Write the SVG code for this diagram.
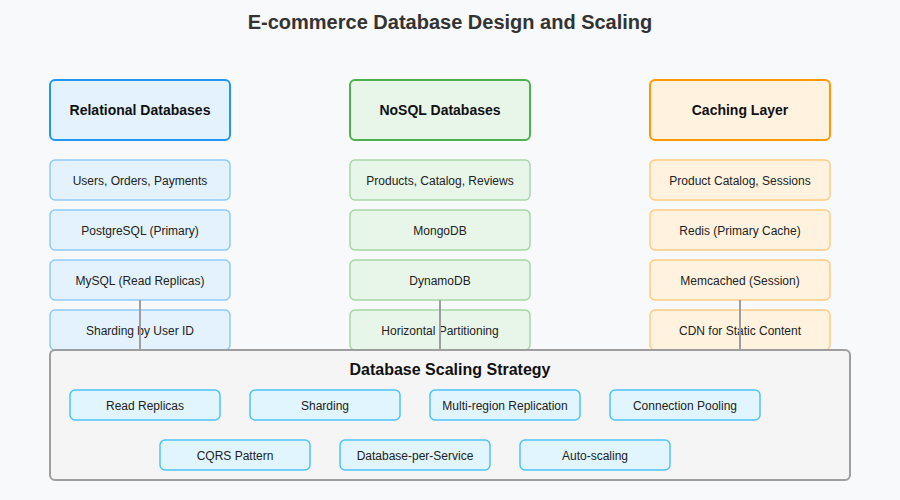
<svg xmlns="http://www.w3.org/2000/svg" width="900" height="500" viewBox="0 0 900 500">
<style>
text{font-family:"Liberation Sans",Arial,sans-serif;fill:#222;text-anchor:middle;dominant-baseline:central}
.title{font-size:20px;font-weight:bold;fill:#333}
.hdr{font-size:14px;font-weight:bold;fill:#111}
.sub{font-size:12px}
.rel-h{fill:#E3F2FD;stroke:#2196F3;stroke-width:2}
.rel-s{fill:#E3F2FD;stroke:#90CAF9;stroke-width:1.5}
.nos-h{fill:#E8F5E9;stroke:#4CAF50;stroke-width:2}
.nos-s{fill:#E8F5E9;stroke:#A5D6A7;stroke-width:1.5}
.cac-h{fill:#FFF3E0;stroke:#FF9800;stroke-width:2}
.cac-s{fill:#FFF3E0;stroke:#FFCC80;stroke-width:1.5}
.panel{fill:#F5F5F5;stroke:#9E9E9E;stroke-width:2}
.strat{fill:#E1F5FE;stroke:#4FC3F7;stroke-width:1.5}
.conn{stroke:#9E9E9E;stroke-width:2;fill:none}
</style>
<rect width="900" height="500" fill="#F8F9FA"/>
<text class="title" x="450" y="22">E-commerce Database Design and Scaling</text>

<g id="relational">
<rect class="rel-h" x="50" y="80" width="180" height="60" rx="5"/>
<text class="hdr" x="140" y="110">Relational Databases</text>
<rect class="rel-s" x="50" y="160" width="180" height="40" rx="5"/>
<text class="sub" x="140" y="181">Users, Orders, Payments</text>
<rect class="rel-s" x="50" y="210" width="180" height="40" rx="5"/>
<text class="sub" x="140" y="231">PostgreSQL (Primary)</text>
<rect class="rel-s" x="50" y="260" width="180" height="40" rx="5"/>
<text class="sub" x="140" y="281">MySQL (Read Replicas)</text>
<rect class="rel-s" x="50" y="310" width="180" height="40" rx="5"/>
<text class="sub" x="140" y="331">Sharding by User ID</text>
</g>

<g id="nosql">
<rect class="nos-h" x="350" y="80" width="180" height="60" rx="5"/>
<text class="hdr" x="440" y="110">NoSQL Databases</text>
<rect class="nos-s" x="350" y="160" width="180" height="40" rx="5"/>
<text class="sub" x="440" y="181">Products, Catalog, Reviews</text>
<rect class="nos-s" x="350" y="210" width="180" height="40" rx="5"/>
<text class="sub" x="440" y="231">MongoDB</text>
<rect class="nos-s" x="350" y="260" width="180" height="40" rx="5"/>
<text class="sub" x="440" y="281">DynamoDB</text>
<rect class="nos-s" x="350" y="310" width="180" height="40" rx="5"/>
<text class="sub" x="440" y="331">Horizontal Partitioning</text>
</g>

<g id="caching">
<rect class="cac-h" x="650" y="80" width="180" height="60" rx="5"/>
<text class="hdr" x="740" y="110">Caching Layer</text>
<rect class="cac-s" x="650" y="160" width="180" height="40" rx="5"/>
<text class="sub" x="740" y="181">Product Catalog, Sessions</text>
<rect class="cac-s" x="650" y="210" width="180" height="40" rx="5"/>
<text class="sub" x="740" y="231">Redis (Primary Cache)</text>
<rect class="cac-s" x="650" y="260" width="180" height="40" rx="5"/>
<text class="sub" x="740" y="281">Memcached (Session)</text>
<rect class="cac-s" x="650" y="310" width="180" height="40" rx="5"/>
<text class="sub" x="740" y="331">CDN for Static Content</text>
</g>

<g id="connectors">
<line class="conn" x1="140" y1="300" x2="140" y2="350"/>
<line class="conn" x1="440" y1="300" x2="440" y2="350"/>
<line class="conn" x1="740" y1="300" x2="740" y2="350"/>
</g>

<g id="scaling">
<rect class="panel" x="50" y="350" width="800" height="130" rx="5"/>
<text class="hdr" x="450" y="369" style="font-size:16px">Database Scaling Strategy</text>
<rect class="strat" x="70" y="390" width="150" height="30" rx="5"/>
<text class="sub" x="145" y="406">Read Replicas</text>
<rect class="strat" x="250" y="390" width="150" height="30" rx="5"/>
<text class="sub" x="325" y="406">Sharding</text>
<rect class="strat" x="430" y="390" width="150" height="30" rx="5"/>
<text class="sub" x="505" y="406">Multi-region Replication</text>
<rect class="strat" x="610" y="390" width="150" height="30" rx="5"/>
<text class="sub" x="685" y="406">Connection Pooling</text>
<rect class="strat" x="160" y="440" width="150" height="30" rx="5"/>
<text class="sub" x="235" y="456">CQRS Pattern</text>
<rect class="strat" x="340" y="440" width="150" height="30" rx="5"/>
<text class="sub" x="415" y="456">Database-per-Service</text>
<rect class="strat" x="520" y="440" width="150" height="30" rx="5"/>
<text class="sub" x="595" y="456">Auto-scaling</text>
</g>
</svg>
